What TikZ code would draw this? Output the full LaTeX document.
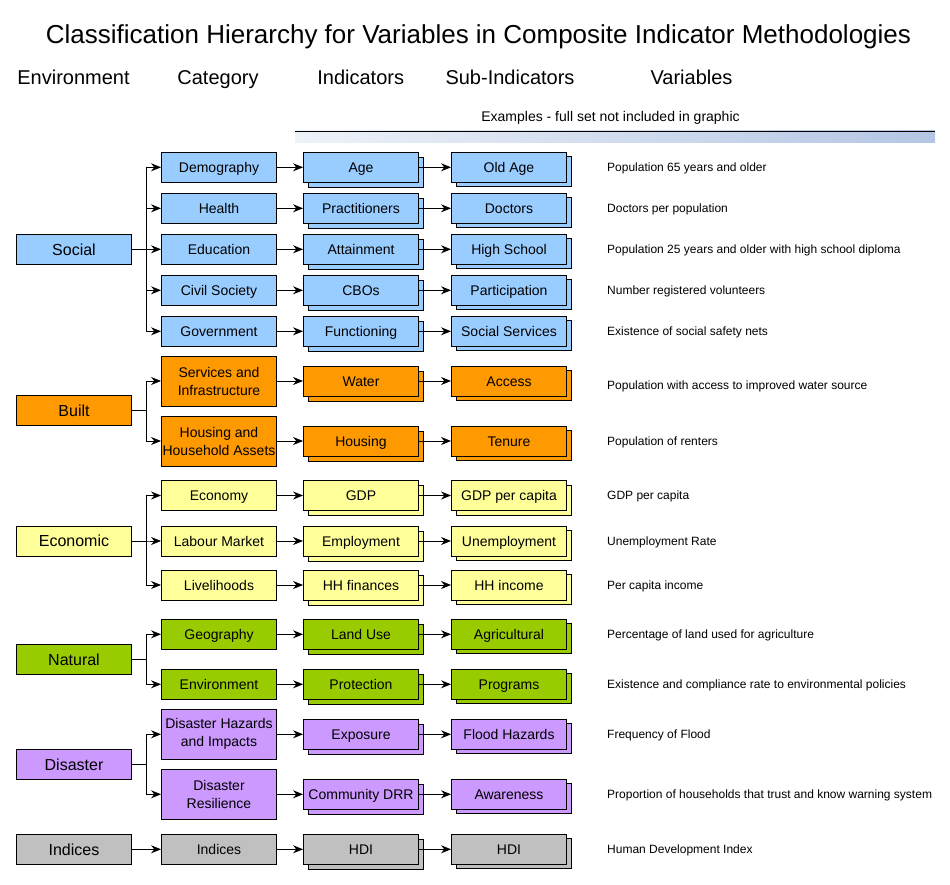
\documentclass[tikz,border=0pt]{standalone}
\usepackage{fontspec}
\setmainfont{Liberation Sans}
\usetikzlibrary{arrows.meta,shadows}
\definecolor{cSoc}{HTML}{99CCFF}
\definecolor{cBui}{HTML}{FF9900}
\definecolor{cEco}{HTML}{FFFF99}
\definecolor{cNat}{HTML}{99CC00}
\definecolor{cDis}{HTML}{CC99FF}
\definecolor{cInd}{HTML}{C0C0C0}
\definecolor{gradL}{HTML}{EEF2F9}
\definecolor{gradR}{HTML}{B4C6E4}
\tikzset{
  box/.style={draw=black, line width=0.9pt, minimum width=115pt, minimum height=30pt,
    inner xsep=0.5pt, inner ysep=1pt, align=center, text=black,
    font=\fontsize{14}{18}\selectfont, text height=12.5pt, text depth=2.5pt},
  envbox/.style={box, font=\fontsize{16}{19}\selectfont, text height=14.5pt, text depth=3pt},
  tallbox/.style={minimum height=50pt, text height=, text depth=},
  indbox/.style={box, copy shadow={shadow xshift=5pt, shadow yshift=-5pt}},
  subbox/.style={box, copy shadow={shadow xshift=4.5pt, shadow yshift=-4.5pt}},
  conn/.style={line width=0.9pt, -{Stealth[length=10pt,width=8pt]}},
  vartext/.style={anchor=west, inner sep=0pt, font=\fontsize{12}{14}\selectfont,
    text height=11pt, text depth=2.4pt},
  hdr/.style={anchor=base, inner sep=0pt, font=\fontsize{20}{24}\selectfont},
}
\begin{document}
\begin{tikzpicture}[x=1pt,y=-1pt]
\useasboundingbox (0,0) rectangle (950,885);
% title and headers
\node[anchor=base, inner sep=0pt, font=\fontsize{26}{30}\selectfont] (title) at (478.5,43.5) {Classification Hierarchy for Variables in Composite Indicator Methodologies};
\node[hdr] (hEnv) at (73.5,85) {Environment};
\node[hdr] (hCat) at (218,85) {Category};
\node[hdr] (hInd) at (360.7,85) {Indicators};
\node[hdr] (hSub) at (510,85) {Sub-Indicators};
\node[hdr] (hVar) at (691.5,85) {Variables};
\node[anchor=base, inner sep=0pt, font=\fontsize{14}{16}\selectfont] (examples) at (610.5,121.7) {Examples - full set not included in graphic};
\shade[left color=gradL, right color=gradR] (295,131) rectangle (935,143);
\draw[line width=0.9pt] (295,131) -- (935,131);

% ---------- Social ----------
\node[envbox, fill=cSoc] (social) at (74,249.3) {Social};
\node[box, fill=cSoc] (demo) at (219,167.3) {Demography};
\node[box, fill=cSoc] (health) at (219,208.3) {Health};
\node[box, fill=cSoc] (educ) at (219,249.3) {Education};
\node[box, fill=cSoc] (civil) at (219,290.3) {Civil Society};
\node[box, fill=cSoc] (gov) at (219,331.3) {Government};
\node[indbox, fill=cSoc] (age) at (361,167.3) {Age};
\node[indbox, fill=cSoc] (pract) at (361,208.3) {Practitioners};
\node[indbox, fill=cSoc] (attain) at (361,249.3) {Attainment};
\node[indbox, fill=cSoc] (cbo) at (361,290.3) {CBOs};
\node[indbox, fill=cSoc] (func) at (361,331.3) {Functioning};
\node[subbox, fill=cSoc] (oldage) at (509,167.3) {Old Age};
\node[subbox, fill=cSoc] (doctors) at (509,208.3) {Doctors};
\node[subbox, fill=cSoc] (hschool) at (509,249.3) {High School};
\node[subbox, fill=cSoc] (partic) at (509,290.3) {Participation};
\node[subbox, fill=cSoc] (socserv) at (509,331.3) {Social Services};
\node[vartext] (v1) at (607,167.3) {Population 65 years and older};
\node[vartext] (v2) at (607,208.3) {Doctors per population};
\node[vartext] (v3) at (607,249.3) {Population 25 years and older with high school diploma};
\node[vartext] (v4) at (607,290.3) {Number registered volunteers};
\node[vartext] (v5) at (607,331.3) {Existence of social safety nets};

% ---------- Built ----------
\node[envbox, fill=cBui] (built) at (74,410.7) {Built};
\node[box, tallbox, fill=cBui] (serv) at (219,381) {Services and\\Infrastructure};
\node[box, tallbox, fill=cBui] (house) at (219,441) {Housing and\\Household Assets};
\node[indbox, fill=cBui] (water) at (361,381) {Water};
\node[indbox, fill=cBui] (housing) at (361,441) {Housing};
\node[subbox, fill=cBui] (access) at (509,381) {Access};
\node[subbox, fill=cBui] (tenure) at (509,441) {Tenure};
\node[vartext] (v6) at (607,385) {Population with access to improved water source};
\node[vartext] (v7) at (607,441) {Population of renters};

% ---------- Economic ----------
\node[envbox, fill=cEco] (econ) at (74,541) {Economic};
\node[box, fill=cEco] (economy) at (219,495.5) {Economy};
\node[box, fill=cEco] (labour) at (219,541) {Labour Market};
\node[box, fill=cEco] (liveli) at (219,585) {Livelihoods};
\node[indbox, fill=cEco] (gdp) at (361,495.5) {GDP};
\node[indbox, fill=cEco] (employ) at (361,541) {Employment};
\node[indbox, fill=cEco] (hhfin) at (361,585) {HH finances};
\node[subbox, fill=cEco] (gdppc) at (509,495.5) {GDP per capita};
\node[subbox, fill=cEco] (unemp) at (509,541) {Unemployment};
\node[subbox, fill=cEco] (hhinc) at (509,585) {HH income};
\node[vartext] (v8) at (607,495.5) {GDP per capita};
\node[vartext] (v9) at (607,541) {Unemployment Rate};
\node[vartext] (v10) at (607,585) {Per capita income};

% ---------- Natural ----------
\node[envbox, fill=cNat] (natural) at (74,659.3) {Natural};
\node[box, fill=cNat] (geo) at (219,634.3) {Geography};
\node[box, fill=cNat] (envir) at (219,684.3) {Environment};
\node[indbox, fill=cNat] (landuse) at (361,634.3) {Land Use};
\node[indbox, fill=cNat] (protect) at (361,684.3) {Protection};
\node[subbox, fill=cNat] (agri) at (509,634.3) {Agricultural};
\node[subbox, fill=cNat] (progs) at (509,684.3) {Programs};
\node[vartext] (v11) at (607,634.3) {Percentage of land used for agriculture};
\node[vartext] (v12) at (607,684.3) {Existence and compliance rate to environmental policies};

% ---------- Disaster ----------
\node[envbox, fill=cDis] (disaster) at (74,764.3) {Disaster};
\node[box, tallbox, fill=cDis] (dhaz) at (219,734.3) {Disaster Hazards\\and Impacts};
\node[box, tallbox, fill=cDis] (dres) at (219,794.3) {Disaster\\Resilience};
\node[indbox, fill=cDis] (expo) at (361,734.3) {Exposure};
\node[indbox, fill=cDis] (cdrr) at (361,794.3) {Community DRR};
\node[subbox, fill=cDis] (flood) at (509,734.3) {Flood Hazards};
\node[subbox, fill=cDis] (aware) at (509,794.3) {Awareness};
\node[vartext] (v13) at (607,734.3) {Frequency of Flood};
\node[vartext] (v14) at (607,794.3) {Proportion of households that trust and know warning system};

% ---------- Indices ----------
\node[envbox, fill=cInd] (indices) at (74,849.3) {Indices};
\node[box, fill=cInd] (indcat) at (219,849.3) {Indices};
\node[indbox, fill=cInd] (hdi1) at (361,849.3) {HDI};
\node[subbox, fill=cInd] (hdi2) at (509,849.3) {HDI};
\node[vartext] (v15) at (607,849.3) {Human Development Index};

% ---------- connectors: environment -> category ----------
\foreach \e/\c in {social/demo, social/health, social/educ, social/civil, social/gov,
                   built/serv, built/house,
                   econ/economy, econ/labour, econ/liveli,
                   natural/geo, natural/envir,
                   disaster/dhaz, disaster/dres}
  \draw[conn] (\e.east) -- ++(14.5pt,0) |- (\c.west);
\draw[conn] (indices.east) -- (indcat.west);

% ---------- category -> indicator -> sub-indicator ----------
\foreach \c/\i/\s in {demo/age/oldage, health/pract/doctors, educ/attain/hschool,
                      civil/cbo/partic, gov/func/socserv,
                      serv/water/access, house/housing/tenure,
                      economy/gdp/gdppc, labour/employ/unemp, liveli/hhfin/hhinc,
                      geo/landuse/agri, envir/protect/progs,
                      dhaz/expo/flood, dres/cdrr/aware,
                      indcat/hdi1/hdi2}
{
  \draw[conn] (\c.east) -- (\i.west);
  \draw[conn] (\i.east) -- (\s.west);
}
\end{tikzpicture}
\end{document}
